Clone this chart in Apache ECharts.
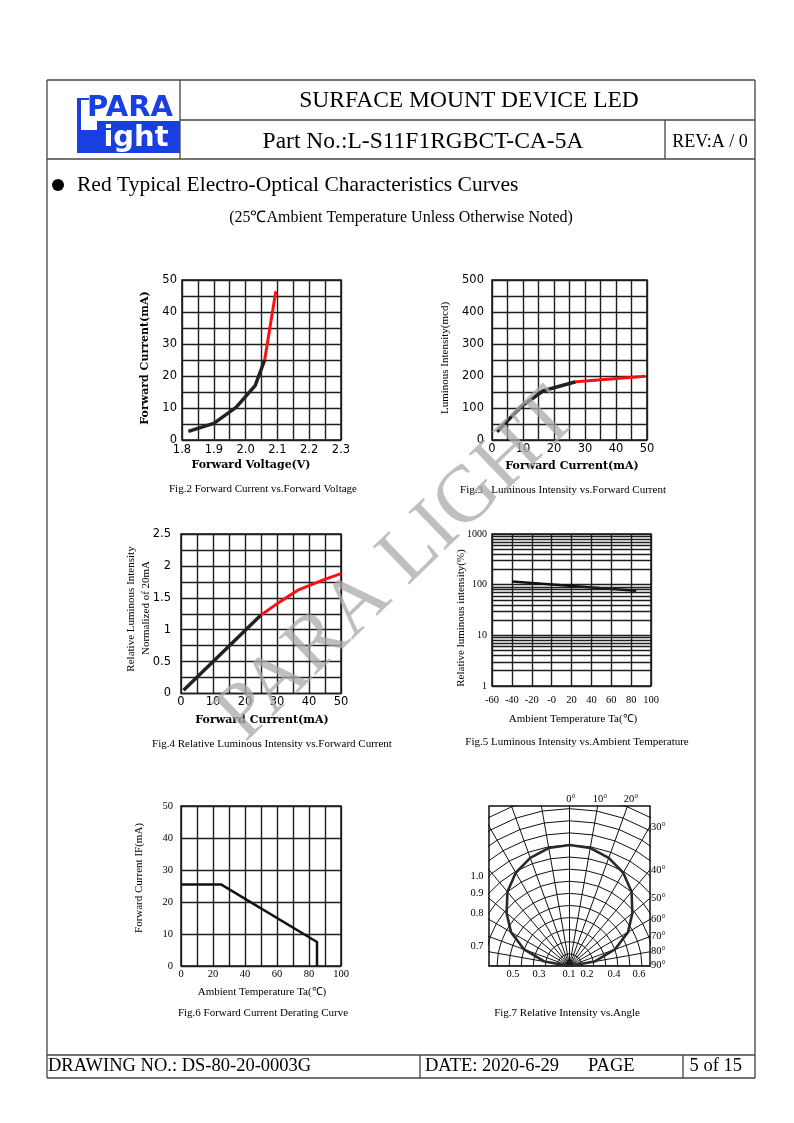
<!DOCTYPE html>
<html><head><meta charset="utf-8">
<script src="https://cdn.jsdelivr.net/npm/echarts@6/dist/echarts.min.js"></script>
<style>html,body{margin:0;padding:0;background:#fff}#c{width:794px;height:1123px}</style>
</head><body><div id="c"></div>
<script>
// ---------- data ----------
const fig2Black = [[1.82,2.7],[1.9,5.2],[1.97,10.2],[2.03,17],[2.06,25]];
const fig2Red = [[2.06,25],[2.095,46.5]];
const fig3Black = [[1.6,26],[9.5,105],[16.5,154],[27,182]];
const fig3Red = [[27,182],[49.5,199]];
const fig4Black = [[0.8,0.05],[25,1.23]];
const fig4Red = [[25,1.23],[31,1.44],[36.5,1.62],[44.5,1.78],[50,1.88]];
const fig5Line = [[-40,115],[85,76]];
const fig5MinorValues = [2,3,4,5,6,7,8,9,20,30,40,50,60,70,80,90,200,300,400,500,600,700,800,900];
const fig6Derating = [[0,25.5],[25,25.5],[85,7.5],[85,0]];
const fig7Angles = [-90,-80,-70,-60,-50,-40,-30,-20,-10,0,10,20,30,40,50,60,70,80,90];
const fig7Intensity = [0,0.21,0.40,0.56,0.68,0.80,0.89,0.95,0.99,1.0,0.99,0.95,0.89,0.80,0.68,0.56,0.40,0.21,0];
const fig7RingRadii = [0.1,0.2,0.3,0.4,0.5,0.6,0.7,0.8,0.9,1.0,1.1,1.2,1.3,1.4,1.5];
const fig7TopLabels = ['0°','10°','20°'];
const fig7RightLabels = ['30°','40°','50°','60°','70°','80°','90°'];
const fig7LeftLabels = ['1.0','0.9','0.8','0.7'];
const fig7BottomLabels = ['0.5','0.3','0.1','0.2','0.4','0.6'];

// ---------- helpers ----------
const SERIF = '"Liberation Serif","Times New Roman",serif';
const SANS = '"DejaVu Sans",sans-serif';
const BSERIF = '"DejaVu Serif",serif';
function txt(text, x, y, size, o) {
  o = o || {};
  const al = o.align || 'center';
  return {type:'text', x:x, y:y, rotation:o.rot||0, z:o.z||10, silent:true,
    style:{text:text, x:0, y:0, fill:o.color||'#000',
      font:(o.weight||'normal')+' '+size+'px '+(o.family||SERIF),
      align:al, textAlign:al, verticalAlign:'middle', textVerticalAlign:'middle'}};
}
function ln(x1,y1,x2,y2,w){return {type:'line',silent:true,z:5,shape:{x1:x1,y1:y1,x2:x2,y2:y2},style:{stroke:'#444',lineWidth:w||1.3}};}
const GL = {color:'#1e1e1e', width:1.4};
function vAxis(idx, min, max, interval, o) {
  o = o || {};
  return {type:o.type||'value', gridIndex:idx, min:min, max:max, interval:interval, logBase:10,
    axisLine:{show:false}, axisTick:{show:false},
    axisLabel:Object.assign({color:'#000', fontFamily:o.family||SANS, fontSize:o.size||11.5, margin:o.margin||5}, o.label||{}),
    splitLine:{show:true, lineStyle:GL},
    minorTick:{show:false, splitNumber:o.minor||2},
    minorSplitLine:{show:!!o.minor, lineStyle:GL}};
}
function line(x, y, data, color, w, extra) {
  return Object.assign({type:'line', xAxisIndex:x, yAxisIndex:y, data:data, symbol:'none', smooth:false,
    lineStyle:{color:color, width:w}, animation:false, z:3}, extra||{});
}
const R2D = Math.PI/180;
function polarXY(r, deg){return [r*Math.sin(deg*R2D), r*Math.cos(deg*R2D)];}

// ---------- grids ----------
const box = {show:true, borderColor:'#111', borderWidth:1.5, backgroundColor:'transparent'};
const grids = [
  Object.assign({left:182, top:280, width:159, height:160}, box),
  Object.assign({left:492, top:280, width:155, height:160}, box),
  Object.assign({left:181, top:534, width:160, height:159.5}, box),
  Object.assign({left:492, top:534, width:159, height:152}, box),
  Object.assign({left:181, top:806, width:160, height:160}, box),
  Object.assign({left:489, top:806, width:161, height:160}, box)
];

const xAxes = [
  vAxis(0, 1.8, 2.3, 0.1, {minor:2, margin:4, label:{formatter:v=>v.toFixed(1)}}),
  vAxis(1, 0, 50, 10, {minor:2, margin:3}),
  vAxis(2, 0, 50, 10, {minor:2, margin:3}),
  vAxis(3, -60, 100, 20, {family:SERIF, size:10.5, margin:9, label:{formatter:v=>v===0?'-0':String(v)}}),
  vAxis(4, 0, 100, 20, {minor:2, family:SERIF, size:10.5, margin:3}),
  {type:'value', gridIndex:5, min:-0.667, max:0.667, show:false, splitLine:{show:false}}
];
const yAxes = [
  vAxis(0, 0, 50, 10, {minor:2, margin:5}),
  vAxis(1, 0, 500, 100, {minor:2, margin:8}),
  vAxis(2, 0, 2.5, 0.5, {minor:2, margin:10}),
  vAxis(3, 1, 1000, null, {type:'log', family:SERIF, size:10, margin:5, label:{formatter:v=>String(Math.round(v))}}),
  vAxis(4, 0, 50, 10, {family:SERIF, size:10.5, margin:8}),
  {type:'value', gridIndex:5, min:0, max:1.322, show:false, splitLine:{show:false}}
];
delete yAxes[3].interval;

// ---------- series ----------
const series = [
  line(0,0,fig2Black,'#222',3.5),
  line(0,0,fig2Red,'#ff1010',3),
  line(1,1,fig3Black,'#222',3.5),
  line(1,1,fig3Red,'#ff1010',3),
  line(2,2,fig4Black,'#222',3.5),
  line(2,2,fig4Red,'#ff1010',3),
  line(3,3,fig5Line,'#111',2.5,{markLine:{silent:true, symbol:'none', animation:false, label:{show:false},
    lineStyle:{color:'#1e1e1e', type:'solid', width:1.4}, data:fig5MinorValues.map(v=>({yAxis:v}))}}),
  line(4,4,fig6Derating,'#111',2.5)
];
// fig7 web grid (spokes + rings) and intensity curve
fig7Angles.forEach(a=>{
  series.push(line(5,5,[[0,0],polarXY(2,a)],'#111',1,{z:2}));
});
fig7RingRadii.forEach(r=>{
  series.push(line(5,5,fig7Angles.map(a=>polarXY(r,a)),'#111',1,{z:2}));
});
series.push(line(5,5,fig7Angles.map((a,i)=>polarXY(fig7Intensity[i],a)),'#2a2a2a',2.6,{z:4}));

// ---------- page graphics ----------
const g = [];
// frame
g.push(ln(47,80,755,80), ln(47,80,47,1078), ln(755,80,755,1078), ln(180,120,755,120), ln(47,159,755,159),
  ln(180,80,180,159), ln(665,120,665,159), ln(47,1055,755,1055), ln(47,1078,755,1078),
  ln(420,1055,420,1078), ln(683,1055,683,1078));
// logo
g.push({type:'rect', silent:true, z:6, shape:{x:77,y:121,width:103,height:32}, style:{fill:'#1a3fe0'}});
g.push({type:'rect', silent:true, z:7, shape:{x:81,y:121,width:16,height:9}, style:{fill:'#fff'}});
g.push({type:'rect', silent:true, z:7, shape:{x:77,y:98,width:4,height:32}, style:{fill:'#1a3fe0'}});
g.push({type:'rect', silent:true, z:7, shape:{x:77,y:98,width:12,height:2}, style:{fill:'#1a3fe0'}});
g.push(txt('PARA', 130, 108, 29, {family:SANS, weight:'bold', color:'#1a3fe0'}));
g.push(txt('ight', 136, 138, 29, {family:SANS, weight:'bold', color:'#fff', z:8}));
// header texts
g.push(txt('SURFACE MOUNT DEVICE LED', 469, 101, 23.5));
g.push(txt('Part No.:L-S11F1RGBCT-CA-5A', 423, 142, 23.5));
g.push(txt('REV:A / 0', 710, 142, 18));
// section title
g.push({type:'circle', silent:true, z:6, shape:{cx:58, cy:185, r:6}, style:{fill:'#000'}});
g.push(txt('Red Typical Electro-Optical Characteristics Curves', 77, 185, 21.5, {align:'left'}));
g.push(txt('(25℃Ambient Temperature Unless Otherwise Noted)', 401, 218, 16));
// fig2 titles
g.push(txt('Forward Current(mA)', 145, 358, 11, {rot:Math.PI/2, family:BSERIF, weight:'bold'}));
g.push(txt('Forward Voltage(V)', 251, 465, 11, {family:BSERIF, weight:'bold'}));
g.push(txt('Fig.2 Forward Current vs.Forward Voltage', 263, 489, 11));
// fig3
g.push(txt('Luminous Intensity(mcd)', 445, 358, 11, {rot:Math.PI/2}));
g.push(txt('Forward Current(mA)', 572, 466, 11, {family:BSERIF, weight:'bold'}));
g.push(txt('Fig.3   Luminous Intensity vs.Forward Current', 563, 490, 11));
// fig4
g.push(txt('Relative Luminous Intensity', 131, 609, 11, {rot:Math.PI/2}));
g.push(txt('Normalized of 20mA', 146, 608, 11, {rot:Math.PI/2}));
g.push(txt('Forward Current(mA)', 262, 720, 11, {family:BSERIF, weight:'bold'}));
g.push(txt('Fig.4 Relative Luminous Intensity vs.Forward Current', 272, 744, 11));
// fig5
g.push(txt('Relative luminous intensity(%)', 461, 618, 11, {rot:Math.PI/2}));
g.push(txt('Ambient Temperature Ta(℃)', 573, 719, 11));
g.push(txt('Fig.5 Luminous Intensity vs.Ambient Temperature', 577, 742, 11));
// fig6
g.push(txt('Forward Current IF(mA)', 139, 878, 11, {rot:Math.PI/2}));
g.push(txt('Ambient Temperature Ta(℃)', 262, 992, 11));
g.push(txt('Fig.6 Forward Current Derating Curve', 263, 1013, 11));
// fig7 labels
const f7Top = [[571,799],[600,799],[631,799]];
fig7TopLabels.forEach((s,i)=>g.push(txt(s, f7Top[i][0], f7Top[i][1], 10.5)));
const f7Right = [827,870,898,919,936,951,965];
fig7RightLabels.forEach((s,i)=>g.push(txt(s, 651, f7Right[i], 10.5, {align:'left'})));
const f7Left = [876,893,913,946];
fig7LeftLabels.forEach((s,i)=>g.push(txt(s, 477, f7Left[i], 10.5)));
const f7Bottom = [513,539,569,587,614,639];
fig7BottomLabels.forEach((s,i)=>g.push(txt(s, f7Bottom[i], 974, 10.5)));
g.push(txt('Fig.7 Relative Intensity vs.Angle', 567, 1013, 11));
// footer
g.push(txt('DRAWING NO.: DS-80-20-0003G', 48, 1066, 18.5, {align:'left'}));
g.push(txt('DATE: 2020-6-29', 425, 1066, 18.5, {align:'left'}));
g.push(txt('PAGE', 588, 1066, 18.5, {align:'left'}));
g.push(txt('5 of 15', 742, 1066, 18.5, {align:'right'}));
// watermark
g.push(txt('PARA LIGHT', 398, 566, 80, {rot:44*R2D, color:'rgba(170,170,170,0.75)', z:100}));

const chart = echarts.init(document.getElementById('c'), null, {renderer:'canvas', width:794, height:1123});
chart.setOption({
  animation:false,
  backgroundColor:'#fff',
  grid:grids, xAxis:xAxes, yAxis:yAxes, series:series,
  graphic:{elements:g}
});
</script></body></html>
